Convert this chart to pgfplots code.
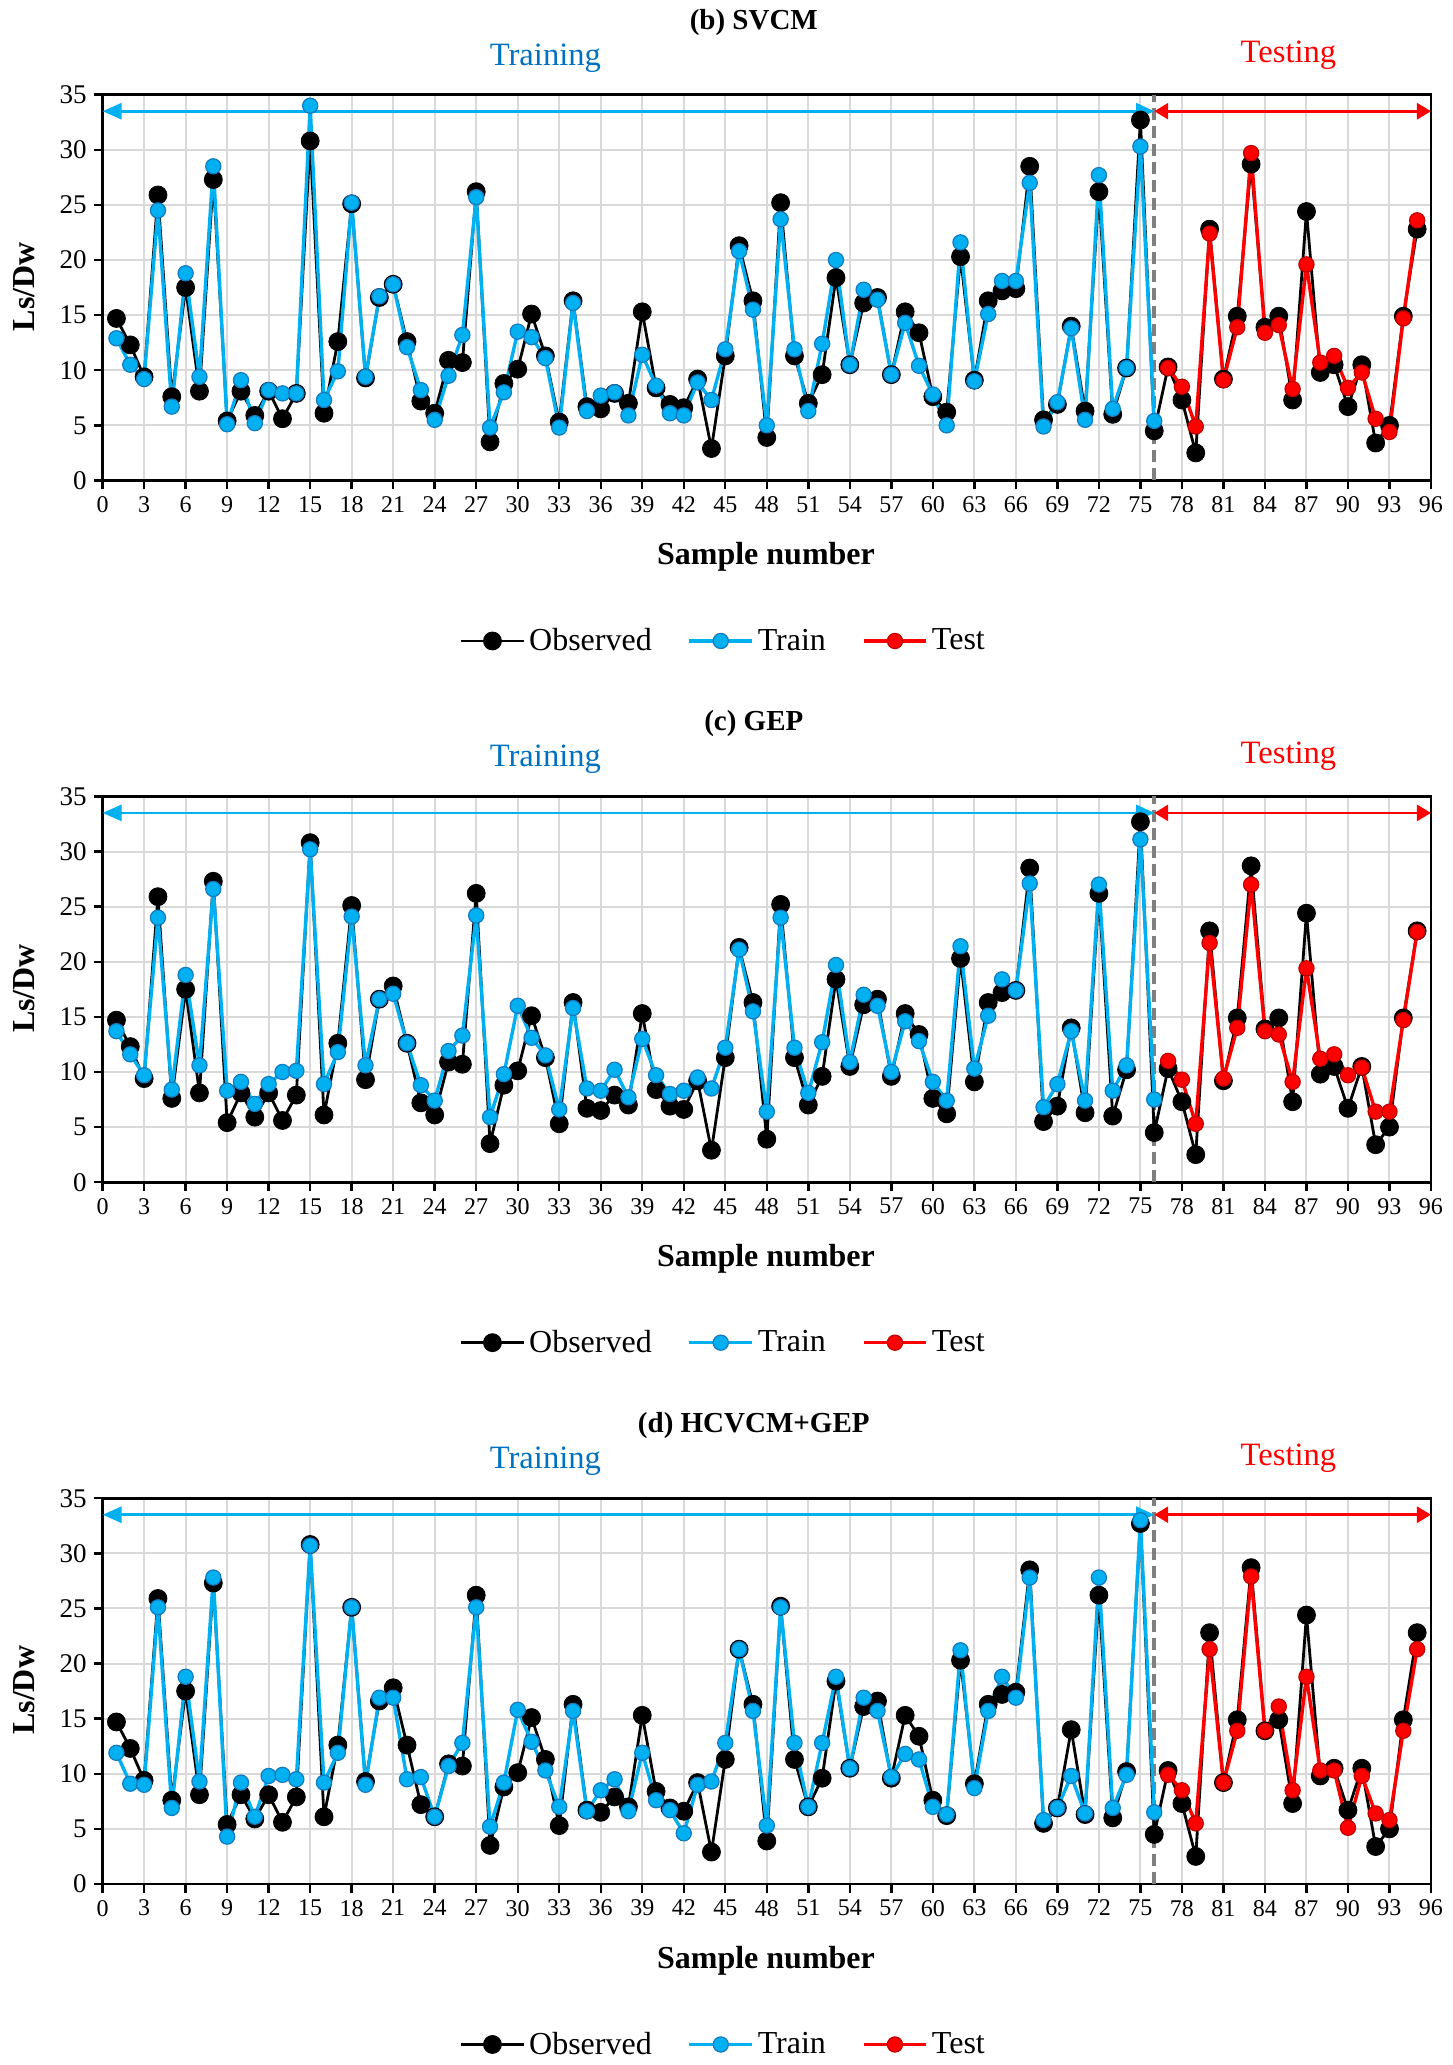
\documentclass[border=0pt]{standalone}
\usepackage{pgfplots}
\pgfplotsset{compat=1.18}
\usepackage{pgfplotstable}
\usepackage{fontspec}
\setmainfont{Liberation Serif}
\usetikzlibrary{arrows.meta}

\definecolor{trainblue}{HTML}{00B0F0}
\definecolor{trainedge}{HTML}{1479BF}
\definecolor{testedge}{HTML}{C00000}
\definecolor{labelblue}{HTML}{0070C0}
\definecolor{gridgray}{HTML}{D9D9D9}
\definecolor{splitgray}{HTML}{7F7F7F}

% observed Ls/Dw for all samples
\pgfplotstableread{
n obs
1 14.7
2 12.3
3 9.4
4 25.9
5 7.6
6 17.5
7 8.1
8 27.3
9 5.4
10 8.1
11 5.9
12 8.1
13 5.6
14 7.9
15 30.8
16 6.1
17 12.6
18 25.1
19 9.3
20 16.6
21 17.8
22 12.6
23 7.2
24 6.1
25 10.9
26 10.7
27 26.2
28 3.5
29 8.8
30 10.1
31 15.1
32 11.3
33 5.3
34 16.3
35 6.7
36 6.5
37 7.9
38 7.0
39 15.3
40 8.4
41 6.9
42 6.6
43 9.2
44 2.9
45 11.3
46 21.3
47 16.3
48 3.9
49 25.2
50 11.3
51 7.0
52 9.6
53 18.4
54 10.5
55 16.1
56 16.6
57 9.6
58 15.3
59 13.4
60 7.6
61 6.2
62 20.3
63 9.1
64 16.3
65 17.2
66 17.4
67 28.5
68 5.5
69 6.9
70 14.0
71 6.3
72 26.2
73 6.0
74 10.2
75 32.7
76 4.5
77 10.3
78 7.3
79 2.5
80 22.8
81 9.2
82 14.9
83 28.7
84 13.9
85 14.9
86 7.3
87 24.4
88 9.8
89 10.5
90 6.7
91 10.5
92 3.4
93 5.0
94 14.9
95 22.8
}\obsdata

% model predictions, training set (samples 1-76)
\pgfplotstableread{
n svcm gep hyb
1 12.9 13.7 11.9
2 10.5 11.6 9.1
3 9.2 9.7 9.0
4 24.5 24.0 25.1
5 6.7 8.4 6.9
6 18.8 18.8 18.8
7 9.4 10.6 9.3
8 28.5 26.6 27.8
9 5.1 8.3 4.3
10 9.1 9.1 9.2
11 5.2 7.1 6.1
12 8.2 8.9 9.8
13 7.9 10.0 9.9
14 7.9 10.1 9.5
15 34.0 30.2 30.7
16 7.3 8.9 9.2
17 9.9 11.8 11.9
18 25.2 24.1 25.1
19 9.4 10.6 9.0
20 16.7 16.6 16.9
21 17.8 17.1 16.9
22 12.1 12.6 9.5
23 8.2 8.8 9.7
24 5.5 7.4 6.1
25 9.5 11.9 10.7
26 13.2 13.3 12.8
27 25.7 24.2 25.1
28 4.8 5.9 5.2
29 8.0 9.8 9.2
30 13.5 16.0 15.8
31 13.0 13.1 12.9
32 11.1 11.5 10.3
33 4.8 6.6 7.0
34 16.1 15.8 15.7
35 6.3 8.5 6.6
36 7.7 8.3 8.5
37 8.0 10.2 9.5
38 5.9 7.7 6.6
39 11.4 13.0 11.9
40 8.6 9.7 7.6
41 6.1 8.0 6.7
42 5.9 8.3 4.6
43 8.9 9.5 9.0
44 7.3 8.5 9.3
45 11.9 12.2 12.8
46 20.8 21.1 21.3
47 15.5 15.5 15.7
48 5.0 6.4 5.3
49 23.7 24.0 25.1
50 11.9 12.2 12.8
51 6.3 8.1 7.0
52 12.4 12.7 12.8
53 20.0 19.7 18.8
54 10.5 10.9 10.5
55 17.3 17.0 16.9
56 16.4 16.0 15.7
57 9.6 10.0 9.7
58 14.3 14.6 11.8
59 10.4 12.8 11.3
60 7.8 9.1 7.0
61 5.0 7.4 6.3
62 21.6 21.4 21.2
63 9.0 10.3 8.7
64 15.1 15.1 15.7
65 18.1 18.4 18.8
66 18.1 17.4 16.9
67 27.0 27.1 27.8
68 4.9 6.8 5.8
69 7.1 8.9 6.9
70 13.8 13.7 9.8
71 5.5 7.4 6.4
72 27.7 27.0 27.8
73 6.5 8.3 6.9
74 10.2 10.6 9.9
75 30.3 31.1 33.0
76 5.4 7.5 6.5
}\traindata

% model predictions, testing set (samples 77-95)
\pgfplotstableread{
n svcm gep hyb
77 10.2 11.0 9.9
78 8.5 9.3 8.5
79 4.9 5.3 5.5
80 22.4 21.7 21.3
81 9.1 9.4 9.2
82 13.9 14.0 13.9
83 29.7 27.0 27.9
84 13.4 13.7 13.9
85 14.1 13.4 16.1
86 8.3 9.1 8.5
87 19.6 19.4 18.8
88 10.7 11.2 10.3
89 11.3 11.6 10.3
90 8.4 9.7 5.1
91 9.8 10.4 9.8
92 5.6 6.4 6.4
93 4.4 6.4 5.8
94 14.7 14.7 13.9
95 23.6 22.7 21.3
}\testdata

\pgfplotsset{
  panel/.style={
    scale only axis, width=664.2pt, height=192.9pt,
    anchor=south west,
    xmin=0, xmax=96, ymin=0, ymax=35,
    xtick={0,3,...,96}, ytick={0,5,...,35},
    grid=major,
    major grid style={draw=gridgray, line width=1pt},
    axis line style={black, line width=1.4pt},
    tick style={black, line width=1.2pt},
    tick align=outside, major tick length=4.5pt,
    xtick pos=bottom, ytick pos=left,
    clip=false,
    /pgf/number format/assume math mode=true,
    xticklabel style={font=\fontsize{12}{14}\selectfont},
    yticklabel style={font=\fontsize{13.5}{16}\selectfont},
    xlabel={\textbf{Sample number}},
    xlabel style={font=\fontsize{16}{19}\selectfont, at={(axis description cs:0.4994,-0.198)}, anchor=center},
    ylabel={\textbf{Ls/Dw}},
    ylabel style={font=\fontsize{16}{19}\selectfont, at={(axis description cs:-0.0594,0.502)}, anchor=center},
    legend style={at={(axis description cs:0.468,-0.416)}, anchor=center,
      draw=none, fill=none, legend columns=3,
      font=\fontsize{16}{19}\selectfont,
      /tikz/every even column/.append style={column sep=16pt}},
    legend image code/.code={\draw[mark repeat=2,mark phase=2,##1]
      plot coordinates {(0cm,0cm) (0.55cm,0cm) (1.1cm,0cm)};},
  },
  obsline/.style={black, line width=1.4pt, line join=round, mark=*, mark size=4.5pt,
    mark options={fill=black, draw=black, line width=0.4pt}},
  trainline/.style={trainblue, line width=1.7pt, line join=round, mark=*, mark size=3.8pt,
    mark options={fill=trainblue, draw=trainedge, line width=0.6pt}},
  testline/.style={red, line width=1.7pt, line join=round, mark=*, mark size=3.8pt,
    mark options={fill=red, draw=testedge, line width=0.6pt}},
}

% one panel: split line, observed, train, test, range arrows and headings
\newcommand{\panel}[2]{%
  \addplot[splitgray, line width=2pt, dash pattern=on 6pt off 3pt, forget plot]
    coordinates {(76,0) (76,35)};
  \addplot[obsline] table[x=n, y=obs] {\obsdata};
  \addlegendentry{Observed}
  \addplot[trainline] table[x=n, y=#1] {\traindata};
  \addlegendentry{Train}
  \addplot[testline] table[x=n, y=#1] {\testdata};
  \addlegendentry{Test}
  \addplot[trainblue, line width=1.4pt,
    {Triangle[length=9.5pt,width=8pt]}-{Triangle[length=9pt,width=8pt]}, forget plot]
    coordinates {(0,33.5) (76,33.5)};
  \addplot[red, line width=1.4pt,
    {Triangle[length=7pt,width=8pt]}-{Triangle[length=7pt,width=8pt]}, forget plot]
    coordinates {(76,33.5) (96,33.5)};
  \node[font=\bfseries\fontsize{14.5}{17}\selectfont] at (axis cs:47.06,41.57) {#2};
  \node[font=\fontsize{16.3}{19}\selectfont, text=labelblue] at (axis cs:32,38.35) {Training};
  \node[font=\fontsize{16.3}{19}\selectfont, text=red] at (axis cs:85.7,38.6) {Testing};
}

\begin{document}
\begin{tikzpicture}
\useasboundingbox (0,0) rectangle (726pt,1032.5pt);

\begin{axis}[panel, at={(51.3pt,792.25pt)}]
  \panel{svcm}{(b) SVCM}
\end{axis}

\begin{axis}[panel, at={(51.3pt,441.4pt)}]
  \panel{gep}{(c) GEP}
\end{axis}

\begin{axis}[panel, at={(51.3pt,90.5pt)}]
  \panel{hyb}{(d) HCVCM+GEP}
\end{axis}
\end{tikzpicture}
\end{document}
